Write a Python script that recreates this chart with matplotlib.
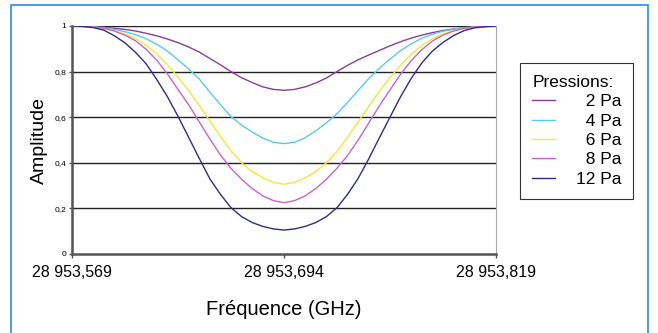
import numpy as np
import matplotlib
matplotlib.use("Agg")
import matplotlib.pyplot as plt
from matplotlib.patches import Rectangle

plt.rcParams["font.family"] = ["Liberation Sans", "DejaVu Sans"]

# sampled frequencies (GHz), 41 points across the scan
freq = np.linspace(28953.569, 28953.819, 41)

amp_2pa = [1.0, 0.999, 0.997, 0.994, 0.990, 0.985, 0.978, 0.968, 0.957, 0.943, 0.927,
           0.908, 0.886, 0.858, 0.830, 0.800, 0.773, 0.752, 0.733, 0.722, 0.718,
           0.722, 0.733, 0.750, 0.772, 0.800, 0.828, 0.852, 0.873, 0.893, 0.913,
           0.931, 0.947, 0.960, 0.971, 0.980, 0.987, 0.992, 0.996, 0.998, 1.0]
amp_4pa = [1.0, 0.999, 0.996, 0.992, 0.985, 0.975, 0.962, 0.944, 0.920, 0.890, 0.852,
           0.812, 0.768, 0.710, 0.655, 0.603, 0.565, 0.535, 0.508, 0.490, 0.484,
           0.490, 0.510, 0.540, 0.575, 0.615, 0.665, 0.718, 0.770, 0.815, 0.855,
           0.892, 0.922, 0.946, 0.964, 0.977, 0.986, 0.992, 0.996, 0.999, 1.0]
amp_6pa = [1.0, 0.998, 0.995, 0.989, 0.979, 0.965, 0.945, 0.915, 0.878, 0.830, 0.776,
           0.718, 0.652, 0.584, 0.516, 0.452, 0.400, 0.362, 0.334, 0.314, 0.306,
           0.314, 0.334, 0.362, 0.400, 0.450, 0.512, 0.580, 0.648, 0.714, 0.774,
           0.828, 0.876, 0.914, 0.944, 0.965, 0.979, 0.989, 0.995, 0.998, 1.0]
amp_8pa = [1.0, 0.999, 0.996, 0.990, 0.978, 0.960, 0.935, 0.898, 0.850, 0.790, 0.722,
           0.655, 0.580, 0.505, 0.435, 0.375, 0.328, 0.287, 0.255, 0.234, 0.225,
           0.234, 0.255, 0.287, 0.328, 0.376, 0.432, 0.500, 0.575, 0.650, 0.720,
           0.788, 0.848, 0.896, 0.934, 0.960, 0.978, 0.990, 0.996, 0.999, 1.0]
amp_12pa = [1.0, 0.998, 0.993, 0.982, 0.957, 0.926, 0.884, 0.834, 0.765, 0.690, 0.604,
            0.512, 0.420, 0.330, 0.262, 0.203, 0.164, 0.138, 0.121, 0.110, 0.105,
            0.110, 0.121, 0.138, 0.164, 0.203, 0.262, 0.332, 0.418, 0.510, 0.600,
            0.690, 0.770, 0.838, 0.890, 0.928, 0.958, 0.980, 0.992, 0.997, 1.0]

labels = ["  2 Pa", "  4 Pa", "  6 Pa", "  8 Pa", "12 Pa"]
series = [amp_2pa, amp_4pa, amp_6pa, amp_8pa, amp_12pa]
colors = ["#8a3c9c", "#5bcbe0", "#f0e83a", "#c864c8", "#2e2e80"]

x_ticks = [28953.569, 28953.694, 28953.819]
x_ticklabels = ["28 953,569", "28 953,694", "28 953,819"]
y_ticks = [0, 0.2, 0.4, 0.6, 0.8, 1.0]
y_ticklabels = ["0", "0,2", "0,4", "0,6", "0,8", "1"]

fig = plt.figure(figsize=(6.58, 3.33), dpi=100)
ax = fig.add_axes([72 / 658, 79 / 333, 424 / 658, 228 / 333])

for amp, lab, col in zip(series, labels, colors):
    ax.plot(freq, amp, color=col, lw=1.0, label=lab)

for y in y_ticks[1:]:
    ax.axhline(y, color="#222222", lw=1.0, zorder=0)

ax.set_xlim(x_ticks[0], x_ticks[-1])
ax.set_ylim(0, 1)
ax.set_xticks(x_ticks)
ax.set_xticklabels(x_ticklabels, fontsize=11.5)
ax.set_yticks(y_ticks)
ax.set_yticklabels(y_ticklabels, fontsize=6)
ax.tick_params(axis="x", length=3, width=1, color="#555555", pad=5)
ax.tick_params(axis="y", length=2, width=1, color="#555555", pad=2)

ax.spines["top"].set_visible(False)
ax.spines["right"].set_color("#aaaaaa")
ax.spines["left"].set_color("#555555")
ax.spines["left"].set_linewidth(1.8)
ax.spines["bottom"].set_color("#555555")
ax.spines["bottom"].set_linewidth(1.8)

ax.set_xlabel("Fréquence (GHz)", fontsize=14.5, labelpad=14)
ax.set_ylabel("Amplitude", fontsize=14, labelpad=5)

leg = fig.legend(loc="upper left", bbox_to_anchor=(520 / 658, 1 - 63 / 333),
                 title="Pressions:", alignment="left", fontsize=12.5,
                 title_fontsize=12.5, frameon=True, fancybox=False,
                 edgecolor="black", handlelength=1.3, handletextpad=1.2,
                 labelspacing=0.24, borderpad=0.7, borderaxespad=0)
leg.get_frame().set_linewidth(0.8)

# blue frame around the chart
fig.patches.append(Rectangle((11 / 658, -0.02), 637 / 658, 1 - 5 / 333 + 0.02,
                             transform=fig.transFigure, fill=False,
                             edgecolor="#2a8ee0", lw=1.2))

fig.savefig("out.png", dpi=100)
